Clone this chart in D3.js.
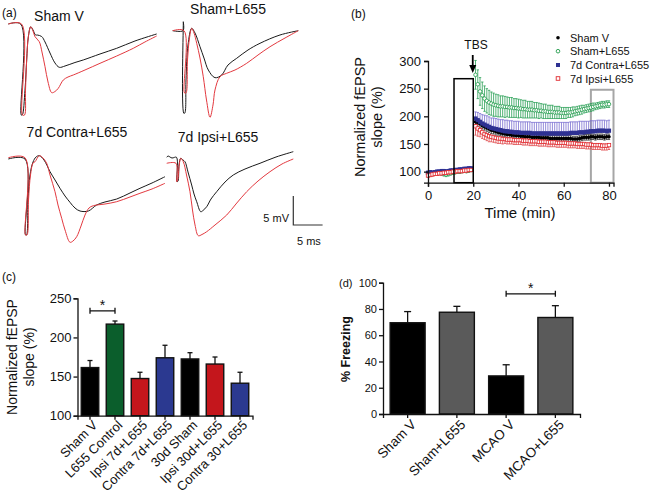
<!DOCTYPE html>
<html><head><meta charset="utf-8">
<script src="https://cdn.jsdelivr.net/npm/d3@7"></script>
<style>body{margin:0;background:#fff}svg{display:block;font-family:"Liberation Sans",Arial,sans-serif}</style>
</head><body><svg id="c" width="656" height="495"></svg>
<script>
// ---------------- Panel (a): fEPSP traces, [time ms, voltage mV] ----------------
const shamV_black = [[-2.12,0],[0,0],[0.1,-15.7],[0.27,-15.7],[0.73,-11.4],[1.02,-6.2],[1.3,-2.24],[1.71,-0.47],[2.1,-1.03],[2.53,-1.9],[2.83,-1.9],[3.58,-2.16],[4.15,-3.1],[5.0,-5.0],[5.85,-6.72],[6.59,-7.47],[7.56,-7.24],[9.26,-6.64],[10.68,-6.2],[13.53,-5.17],[16.38,-4.19],[19.5,-2.93],[23.2,-1.72]];
const shamV_red = [[-2.12,0],[0.14,0],[0.31,-15.7],[0.65,-15.7],[0.82,-11.4],[1.02,-6.2],[1.3,-2.24],[1.71,-0.47],[2.1,-1.2],[2.44,-2.19],[3.17,-3.05],[3.63,-4.83],[4.15,-7.36],[4.66,-10.0],[5.29,-11.84],[5.85,-11.64],[6.41,-11.09],[7.27,-9.65],[8.07,-9.14],[8.98,-8.79],[10.97,-7.93],[13.53,-6.78],[16.38,-5.52],[19.21,-4.19],[21.2,-3.1],[23.2,-2.07]];
const shamL_black = [[-1.76,0],[0,0],[0.05,1.55],[0.14,-14.24],[0.31,-14.19],[0.51,-8.5],[0.85,-2.47],[1.48,0.41],[2.05,-0.4],[2.9,-2.76],[3.58,-4.71],[4.32,-6.78],[5.46,-8.1],[6.6,-7.64],[7.68,-5.91],[9.16,-4.76],[11.09,-3.33],[13.14,-2.17],[16.55,-0.74],[19.67,0]];
const shamL_red = [[-1.76,0],[0.17,0],[0.26,-10.74],[0.51,-10.74],[0.77,-5.05],[1.11,-1.26],[1.48,0.41],[1.88,-0.4],[2.34,-2.17],[2.9,-4.71],[3.46,-7.93],[4.01,-11.95],[4.61,-14.93],[5.12,-12.81],[5.46,-10.22],[6.31,-7.93],[7.46,-7.34],[8.87,-6.78],[10.87,-5.62],[12.8,-4.19],[14.85,-2.76],[17.41,-1.26],[19.67,0]];
const contra_black = [[-2.85,0],[0,0],[0.09,-13.1],[0.26,-13.1],[0.51,-7.07],[0.85,-2.76],[1.37,-0.52],[1.88,0.34],[2.44,0.57],[3.24,-0.17],[4.27,-2.19],[5.12,-3.62],[5.97,-5.05],[6.83,-6.38],[7.68,-7.47],[8.53,-8.45],[9.39,-8.97],[10.8,-8.97],[12.23,-7.93],[13.65,-7.41],[15.65,-6.9],[17.92,-5.86],[19.62,-5.05],[21.67,-4.14],[23.89,-3.05]];
const contra_red = [[-2.85,0.22],[0,0.22],[0.09,-13.1],[0.34,-13.1],[0.6,-7.07],[0.94,-2.76],[1.37,-0.69],[1.71,-0.47],[2.44,0.57],[3.07,0.17],[3.7,-0.74],[4.27,-2.76],[5.12,-5.64],[5.63,-7.93],[6.26,-10.22],[6.83,-12.24],[7.68,-14.36],[8.19,-14.14],[8.82,-13.4],[9.56,-11.55],[10.24,-9.66],[10.92,-8.45],[11.66,-8.05],[13.65,-7.76],[15.65,-7.36],[17.92,-6.55],[19.62,-5.91],[21.67,-5.17],[23.89,-4.19]];
const ipsi_black = [[-1.67,0],[-1.45,0.22],[-0.77,-0.12],[0,0],[0.09,-4.21],[0.26,-4.09],[0.43,-1.33],[0.72,-0.17],[1.11,-0.47],[1.45,-0.76],[1.96,-2.53],[2.59,-4.78],[2.99,-6.33],[3.45,-7.66],[4.13,-9.38],[4.52,-9.17],[5.15,-8.52],[5.89,-7.19],[6.86,-5.93],[8.28,-4.26],[9.69,-3.05],[11.69,-2.02],[14.25,-1.03],[16.98,0.05],[19.93,0.97]];
const ipsi_red = [[-1.67,-1.03],[-0.09,-1.03],[0.05,-4.21],[0.26,-3.57],[0.51,-0.98],[0.72,-0.17],[1.16,-0.76],[1.71,-3.05],[2.3,-5.93],[2.73,-9.09],[3.16,-11.67],[3.72,-13.52],[4.35,-13.31],[5.15,-12.83],[6.57,-11.67],[8.57,-9.95],[10.15,-8.05],[11.98,-5.93],[13.91,-4.09],[15.96,-2.48],[18.0,-1.16],[19.93,-0.29]];
const traceTitles = ["Sham V","Sham+L655","7d Contra+L655","7d Ipsi+L655"];
const scaleBar = {mV:5, ms:5};

// ---------------- Panel (b): LTP time course ----------------
const timeMin = [0,1,2,3,4,5,6,7,8,9,10,11,12,13,14,15,16,17,18,19,
 21,22,23,24,25,26,27,28,29,30,31,32,33,34,35,36,37,38,39,40,
 41,42,43,44,45,46,47,48,49,50,51,52,53,54,55,56,57,58,59,60,
 61,62,63,64,65,66,67,68,69,70,71,72,73,74,75,76,77,78,79,80];
const shamV_slope = [97,98,97,98,99,98,99,100,99,100,101,100,101,102,101,102,103,102,103,104,
 190,188,186,183,181,179,177,175,174,172,171,170,169,168,167,167,166,166,165,165,
 164,164,163,163,163,162,162,162,162,161,161,161,161,160,160,160,160,160,160,160,
 160,160,160,159,159,159,160,161,162,162,162,163,163,162,163,163,163,162,163,163];
const shamV_err = [3,3,3,3,3,3,3,3,3,3,3,3,3,3,3,3,3,3,3,3,
 7,7,7,6,6,6,6,6,6,6,5,5,5,5,5,5,5,5,5,5,
 5,5,5,5,5,5,5,5,5,5,5,5,5,5,5,5,5,5,5,5,
 5,5,5,5,5,5,5,5,5,5,5,5,5,5,5,5,5,5,5,5];
const shamL_slope = [96,97,96,98,97,98,97,96,95,96,97,98,99,100,100,101,102,101,102,103,
 275,258,245,238,232,228,225,223,221,220,219,218,218,217,217,216,216,215,215,214,
 214,213,213,212,212,212,211,211,210,210,209,209,208,208,208,207,207,207,206,206,
 206,207,207,208,209,210,211,212,213,214,215,216,217,218,219,220,221,221,222,222];
const shamL_err = [3,3,3,3,3,3,3,4,4,4,3,3,3,3,3,3,3,3,3,3,
 26,26,25,24,23,22,22,21,21,20,20,19,19,19,18,18,18,17,17,17,
 16,16,16,15,15,15,14,14,14,13,13,13,12,12,12,11,11,11,10,10,
 10,9,9,9,8,8,8,8,7,7,7,7,7,6,6,6,6,6,6,6];
const contra_slope = [98,99,98,99,100,100,101,101,100,101,102,102,103,103,104,104,105,105,106,106,
 196,193,190,187,185,183,181,179,178,177,176,175,174,173,173,172,172,171,171,171,
 170,170,170,170,170,169,169,169,169,169,169,169,169,169,169,169,169,169,169,169,
 169,169,170,170,170,170,171,171,171,172,172,173,173,173,174,174,174,174,173,174];
const contra_err = [3,3,3,3,3,3,3,3,3,3,3,3,3,3,3,3,3,3,3,3,
 12,14,15,16,17,18,18,18,19,19,19,19,20,20,20,20,20,20,20,20,
 20,20,20,20,20,20,20,20,20,20,20,20,20,20,20,20,20,20,20,20,
 20,20,20,20,20,20,20,20,20,19,19,19,19,19,19,19,19,19,19,19];
const ipsi_slope = [93,94,95,96,96,97,97,98,98,99,99,100,100,101,101,101,102,102,103,103,
 182,178,175,171,168,166,164,163,162,161,160,160,159,159,158,158,158,157,157,157,
 157,156,156,156,155,155,155,155,154,154,154,154,153,153,153,153,152,152,152,152,
 152,151,151,151,151,150,150,150,150,149,149,149,148,148,148,148,147,147,147,148];
const ipsi_err = [3,3,3,3,3,3,3,3,3,3,3,3,3,3,3,3,3,3,3,3,
 16,14,12,11,10,10,10,9,9,9,9,9,9,8,8,8,8,8,8,8,
 8,8,8,8,8,8,8,8,8,8,8,8,8,8,8,8,8,8,8,8,
 8,8,8,8,8,8,8,8,8,8,8,8,8,8,8,8,8,8,8,8];
const seriesNamesB = ["Sham V","Sham+L655","7d Contra+L655","7d Ipsi+L655"];
const xTicksB = [0,20,40,60,80];
const yTicksB = [100,150,200,250,300];
const tbsBox = {t0:11.5, t1:20, top:268};
const analysisBox = {t0:72, t1:82, top:248};
const tbsTime = 20;

// ---------------- Panel (c) ----------------
const catsC = ["Sham V","L655 Control","Ipsi 7d+L655","Contra 7d+L655","30d Sham","Ipsi 30d+L655","Contra 30+L655"];
const valsC = [161.5,217,147.5,174,172.5,166,141.5];
const errC = [9,4,8,16,8,9,14];
const colorsC = ["#000000","#0b5e2c","#c4161c","#2b3990","#000000","#c4161c","#2b3990"];
const yTicksC = [100,150,200,250];
const sigC = {from:0, to:1, y:234};

// ---------------- Panel (d) ----------------
const catsD = ["Sham V","Sham+L655","MCAO V","MCAO+L655"];
const valsD = [69.5,77.5,29,73.5];
const errD = [8.5,4.5,8.5,9];
const colorsD = ["#000000","#5a5a5a","#000000","#5a5a5a"];
const yTicksD = [0,20,40,60,80,100];
const sigD = {from:2, to:3, y:91.5};

// =====================================================================
const svg = d3.select("#c");
svg.append("rect").attr("width",656).attr("height",495).attr("fill","#fff");

function label(t,x,y,size,opts={}){
  const e = svg.append("text").attr("x",x).attr("y",y).attr("font-size",size).attr("fill","#111").text(t);
  if(opts.anchor) e.attr("text-anchor",opts.anchor);
  if(opts.weight) e.attr("font-weight",opts.weight);
  if(opts.rotate!==undefined) e.attr("transform",`rotate(${opts.rotate},${x},${y})`);
  return e;
}

// ---------- (a) ----------
label("(a)",2,17,12);
const aLayout = [
  {x0:20.7,y0:24,tx:59,ty:21,black:shamV_black,red:shamV_red},
  {x0:183,y0:30.7,tx:228,ty:14,black:shamL_black,red:shamL_red},
  {x0:25,y0:159,tx:77,ty:137,black:contra_black,red:contra_red},
  {x0:176.5,y0:157.3,tx:218,ty:142,black:ipsi_black,red:ipsi_red}
];
const msPx = 29.3/5, mvPx = 29/5;
aLayout.forEach((p,i)=>{
  const x = d3.scaleLinear().domain([0,1]).range([p.x0,p.x0+msPx]);
  const y = d3.scaleLinear().domain([0,-1]).range([p.y0,p.y0+mvPx]);
  const line = d3.line().x(d=>x(d[0])).y(d=>y(d[1])).curve(d3.curveCatmullRom.alpha(0.5));
  svg.append("path").attr("d",line(p.black)).attr("fill","none").attr("stroke","#1a1a1a").attr("stroke-width",1);
  svg.append("path").attr("d",line(p.red)).attr("fill","none").attr("stroke","#e3393f").attr("stroke-width",1);
  label(traceTitles[i],p.tx,p.ty,14,{anchor:"middle"});
});
{
  const sx = d3.scaleLinear().domain([0,1]).range([293.3,293.3+msPx]);
  const sy = d3.scaleLinear().domain([0,1]).range([225,225-mvPx]);
  svg.append("path").attr("d",`M${sx(0)},${sy(scaleBar.mV)}L${sx(0)},${sy(0)}L${sx(scaleBar.ms)},${sy(0)}`)
    .attr("fill","none").attr("stroke","#333").attr("stroke-width",1.2);
  label(scaleBar.mV+" mV",289,222,11,{anchor:"end"});
  label(scaleBar.ms+" ms",sx(scaleBar.ms/2)+1,245,11,{anchor:"middle"});
}

// ---------- (b) ----------
label("(b)",351,18,12);
const xB = d3.scaleLinear().domain([0,82]).range([428,613.5]);
const yB = d3.scaleLinear().domain([80,300]).range([182.7,61]);
const gB = svg.append("g");
gB.append("rect").attr("x",xB(analysisBox.t0)).attr("y",yB(analysisBox.top))
  .attr("width",xB(analysisBox.t1)-xB(analysisBox.t0)).attr("height",yB(80)-yB(analysisBox.top))
  .attr("fill","none").attr("stroke","#a6a6a6").attr("stroke-width",2);
const series = [
  {v:shamL_slope,e:shamL_err,dir:"both",c:"#1f9a4a",ec:"#2aa055",m:"ocircle"},
  {v:shamV_slope,e:shamV_err,dir:"both",c:"#000",ec:"#333",m:"circle"},
  {v:contra_slope,e:contra_err,dir:"up",c:"#2e3192",ec:"#7a6fd0",m:"square"},
  {v:ipsi_slope,e:ipsi_err,dir:"down",c:"#e02a2f",ec:"#e0474a",m:"osquare"}
];
series.forEach(s=>{
  const g = gB.append("g");
  timeMin.forEach((t,i)=>{
    const cx = xB(t), v=s.v[i], e=s.e[i];
    const lo = s.dir==="up"? v : v-e, hi = s.dir==="down"? v : v+e;
    g.append("line").attr("x1",cx).attr("x2",cx).attr("y1",yB(lo)).attr("y2",yB(hi)).attr("stroke",s.ec).attr("stroke-width",0.8);
    if(s.dir!=="down") g.append("line").attr("x1",cx-1.2).attr("x2",cx+1.2).attr("y1",yB(hi)).attr("y2",yB(hi)).attr("stroke",s.ec).attr("stroke-width",0.8);
    if(s.dir!=="up") g.append("line").attr("x1",cx-1.2).attr("x2",cx+1.2).attr("y1",yB(lo)).attr("y2",yB(lo)).attr("stroke",s.ec).attr("stroke-width",0.8);
  });
  timeMin.forEach((t,i)=>{
    const cx = xB(t), cy = yB(s.v[i]);
    if(s.m==="circle") g.append("circle").attr("cx",cx).attr("cy",cy).attr("r",1.8).attr("fill",s.c);
    if(s.m==="ocircle") g.append("circle").attr("cx",cx).attr("cy",cy).attr("r",1.8).attr("fill","#fff").attr("stroke",s.c).attr("stroke-width",0.8);
    if(s.m==="square") g.append("rect").attr("x",cx-2.1).attr("y",cy-2.1).attr("width",4.2).attr("height",4.2).attr("fill",s.c);
    if(s.m==="osquare") g.append("rect").attr("x",cx-1.7).attr("y",cy-1.7).attr("width",3.4).attr("height",3.4).attr("fill","#fff").attr("stroke",s.c).attr("stroke-width",0.8);
  });
});
gB.append("rect").attr("x",xB(tbsBox.t0)).attr("y",yB(tbsBox.top))
  .attr("width",xB(tbsBox.t1)-xB(tbsBox.t0)).attr("height",yB(80)-yB(tbsBox.top))
  .attr("fill","none").attr("stroke","#000").attr("stroke-width",1.5);
const axB = svg.append("g").attr("transform",`translate(0,${yB(80)})`)
  .call(d3.axisBottom(xB).tickValues(xTicksB).tickSizeOuter(0).tickSize(4).tickPadding(4));
const ayB = svg.append("g").attr("transform",`translate(${xB(0)},0)`)
  .call(d3.axisLeft(yB).tickValues(yTicksB).tickSizeOuter(0).tickSize(4).tickPadding(3));
[axB,ayB].forEach(a=>{a.selectAll("path,line").attr("stroke","#111").attr("stroke-width",1.3);
  a.selectAll("text").attr("font-size",13).attr("fill","#111").attr("font-family",null);});
label("Time (min)",520,218,15,{anchor:"middle"});
label("Normalized fEPSP",365,117,14.5,{anchor:"middle",rotate:-90});
label("slope (%)",382,117,14.5,{anchor:"middle",rotate:-90});
label("TBS",476,49,12,{anchor:"middle"});
svg.append("line").attr("x1",xB(tbsTime)-0.5).attr("x2",xB(tbsTime)-0.5).attr("y1",55).attr("y2",67).attr("stroke","#000").attr("stroke-width",1.8);
svg.append("path").attr("d",`M${xB(tbsTime)-4},65L${xB(tbsTime)+3},65L${xB(tbsTime)-0.5},73Z`).attr("fill","#000");
const legY = [37.7,51.2,65,78.5];
const legM = ["circle","ocircle","square","osquare"];
const legC = ["#000","#1f9a4a","#2e3192","#e02a2f"];
seriesNamesB.forEach((n,i)=>{
  const cx=558, cy=legY[i];
  if(legM[i]==="circle") svg.append("circle").attr("cx",cx).attr("cy",cy).attr("r",1.8).attr("fill",legC[i]);
  if(legM[i]==="ocircle") svg.append("circle").attr("cx",cx).attr("cy",cy).attr("r",1.8).attr("fill","#fff").attr("stroke",legC[i]).attr("stroke-width",0.9);
  if(legM[i]==="square") svg.append("rect").attr("x",cx-2).attr("y",cy-2).attr("width",4).attr("height",4).attr("fill",legC[i]);
  if(legM[i]==="osquare") svg.append("rect").attr("x",cx-1.8).attr("y",cy-1.8).attr("width",3.6).attr("height",3.6).attr("fill","#fff").attr("stroke",legC[i]).attr("stroke-width",0.9);
  label(n,570,cy+4,11);
});

// ---------- bar chart helper ----------
function barPanel(cfg){
  const x = d3.scaleBand().domain(cfg.cats).range(cfg.xr).paddingInner(cfg.pi).paddingOuter(cfg.po);
  const y = d3.scaleLinear().domain(cfg.yd).range(cfg.yr);
  const g = svg.append("g");
  cfg.cats.forEach((c,i)=>{
    const cx = x(c)+x.bandwidth()/2, top=y(cfg.vals[i]+cfg.errs[i]);
    g.append("line").attr("x1",cx).attr("x2",cx).attr("y1",y(cfg.vals[i])).attr("y2",top).attr("stroke","#111").attr("stroke-width",1.3);
    g.append("line").attr("x1",cx-cfg.cap).attr("x2",cx+cfg.cap).attr("y1",top).attr("y2",top).attr("stroke","#111").attr("stroke-width",1.3);
    g.append("rect").attr("x",x(c)).attr("y",y(cfg.vals[i])).attr("width",x.bandwidth()).attr("height",y(cfg.yd[0])-y(cfg.vals[i]))
      .attr("fill",cfg.colors[i]).attr("stroke","#111").attr("stroke-width",1.4);
  });
  const ax = svg.append("g").attr("transform",`translate(0,${cfg.yr[0]})`)
    .call(d3.axisBottom(x).tickSizeOuter(0).tickSize(4).tickFormat(""));
  const ay = svg.append("g").attr("transform",`translate(${cfg.xr[0]},0)`)
    .call(d3.axisLeft(y).tickValues(cfg.yt).tickSizeOuter(0).tickSize(4).tickPadding(2));
  [ax,ay].forEach(a=>{a.selectAll("path,line").attr("stroke","#111").attr("stroke-width",1.3);
    a.selectAll("text").attr("font-size",cfg.fs).attr("fill","#111").attr("font-family",null);});
  cfg.cats.forEach((c,i)=>{
    const cx = x(c)+x.bandwidth()/2, ty = cfg.yr[0]+cfg.ldy;
    svg.append("text").attr("x",cx+cfg.ldx).attr("y",ty).attr("dy","0.35em").attr("text-anchor","end")
      .attr("font-size",cfg.lfs).attr("fill","#111").attr("transform",`rotate(-45,${cx+cfg.ldx},${ty})`).text(c);
  });
  const s = cfg.sig, x1 = x(cfg.cats[s.from])+x.bandwidth()/2, x2 = x(cfg.cats[s.to])+x.bandwidth()/2, sy=y(s.y);
  svg.append("path").attr("d",`M${x1},${sy-3}V${sy+3}M${x1},${sy}H${x2}M${x2},${sy-3}V${sy+3}`).attr("stroke","#111").attr("stroke-width",1.3).attr("fill","none");
  svg.append("text").attr("x",(x1+x2)/2).attr("y",sy-1).attr("text-anchor","middle").attr("font-size",14).attr("fill","#111").text("*");
  return {x,y};
}

// ---------- (c) ----------
label("(c)",2,281,12);
barPanel({cats:catsC,vals:valsC,errs:errC,colors:colorsC,xr:[77.5,252.5],pi:0.3,po:0.15,yd:[100,250],yr:[415.7,298.3],yt:yTicksC,
  fs:13,lfs:13,cap:2.5,ldx:5,ldy:7,sig:sigC});
label("Normalized fEPSP",17,357,14,{anchor:"middle",rotate:-90});
label("slope (%)",34,357,14,{anchor:"middle",rotate:-90});

// ---------- (d) ----------
label("(d)",339,287,11);
barPanel({cats:catsD,vals:valsD,errs:errD,colors:colorsD,xr:[383,580],pi:0.29,po:0.145,yd:[0,100],yr:[414,282.7],yt:yTicksD,
  fs:11,lfs:13.5,cap:3.5,ldx:6,ldy:8,sig:sigD});
label("% Freezing",350,349,12.5,{anchor:"middle",rotate:-90,weight:"bold"});
</script></body></html>
